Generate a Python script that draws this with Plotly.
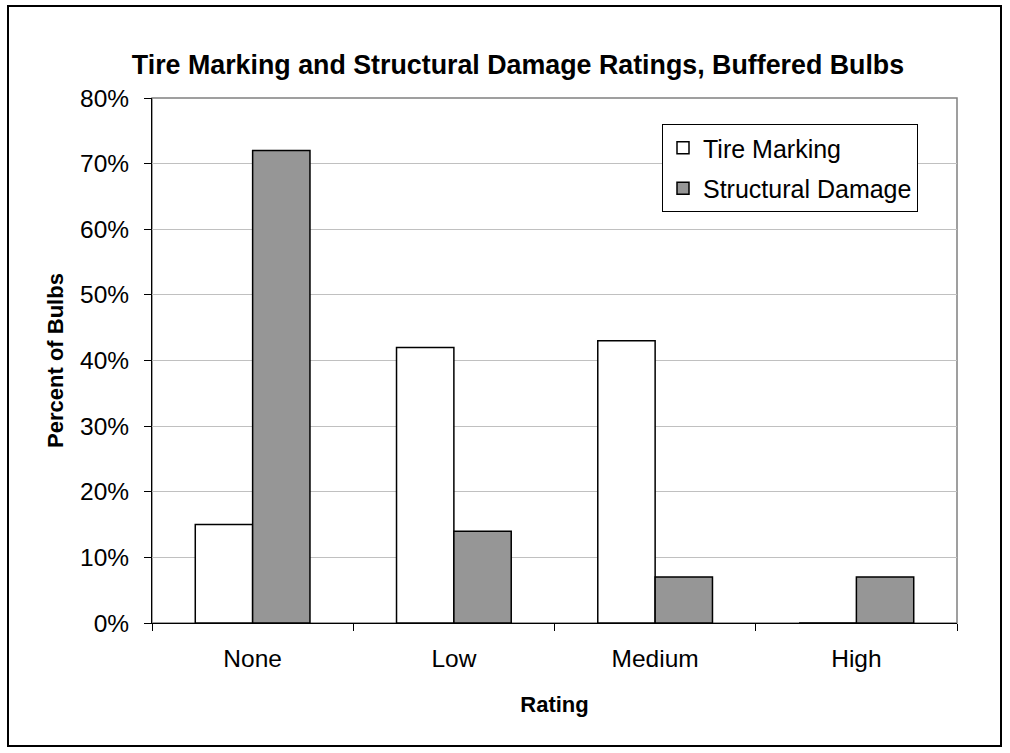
import plotly.graph_objects as go

categories = ["None", "Low", "Medium", "High"]
tire_marking = [15, 42, 43, 0]
structural_damage = [72, 14, 7, 7]
y_ticks = [0, 10, 20, 30, 40, 50, 60, 70, 80]
y_tick_labels = [f"{v}%" for v in y_ticks]

FONT = "Liberation Sans, Arial, sans-serif"

fig = go.Figure()
fig.add_trace(go.Bar(
    x=categories, y=tire_marking, name="Tire Marking", legendgroup="a",
    marker=dict(color="#ffffff", line=dict(color="#000000", width=1.5)),
))
fig.add_trace(go.Bar(
    x=categories, y=structural_damage, name="Structural Damage", legendgroup="b",
    marker=dict(color="#969696", line=dict(color="#000000", width=1.5)),
))

W, H = 1010, 753
l, r, t, b = 152, 53, 98, 130
pw, ph = W - l - r, H - t - b

def px(x):
    return (x - l) / pw

def py(y):
    return (H - b - y) / ph

fig.update_layout(
    width=W, height=H,
    margin=dict(l=l, r=r, t=t, b=b),
    paper_bgcolor="white", plot_bgcolor="white",
    font=dict(family=FONT, size=24, color="black"),
    title=dict(text="<b>Tire Marking and Structural Damage Ratings, Buffered Bulbs</b>",
               x=518 / W, xanchor="center", y=1 - 65 / H, yanchor="middle",
               font=dict(size=26.8, family=FONT)),
    barmode="group", bargap=0.43, bargroupgap=0,
    showlegend=True,
    legend=dict(x=px(662), y=py(124), xanchor="left", yanchor="top",
                bgcolor="white", bordercolor="#000000", borderwidth=1,
                font=dict(size=25, family=FONT), traceorder="grouped",
                tracegroupgap=5, itemwidth=30),
    xaxis=dict(
        showgrid=False, showline=True, linecolor="#000000", linewidth=1,
        ticks="outside", ticklen=7, tickcolor="#000000", tickson="boundaries",
        ticklabelstandoff=14,
        title=dict(text="<b>Rating</b>", font=dict(size=22, family=FONT), standoff=25),
        tickfont=dict(size=24.5),
    ),
    yaxis=dict(
        range=[0, 80], tickvals=y_ticks, ticktext=y_tick_labels,
        showgrid=True, gridcolor="#c0c0c0", gridwidth=1,
        showline=True, linecolor="#000000", linewidth=1,
        ticks="outside", ticklen=7, tickcolor="#000000",
        ticklabelstandoff=10,
        title=dict(text="<b>Percent of Bulbs</b>", font=dict(size=22, family=FONT), standoff=10),
        tickfont=dict(size=24.5), zeroline=False,
    ),
    shapes=[
        dict(type="rect", xref="paper", yref="paper", x0=0, x1=1, y0=0, y1=1,
             line=dict(color="#808080", width=1.5), layer="below"),
        dict(type="rect", xref="paper", yref="paper",
             x0=px(8), x1=px(1001), y0=py(746), y1=py(6),
             line=dict(color="#000000", width=2)),
    ],
)

fig.write_html("out.html", config={"displayModeBar": False},
               post_script="document.body.style.margin='0';")
